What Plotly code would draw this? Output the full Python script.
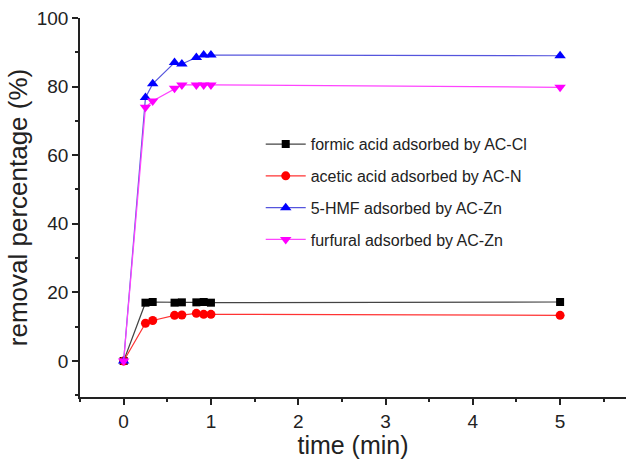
import plotly.graph_objects as go

time_min = [0, 0.25, 0.333, 0.583, 0.667, 0.833, 0.917, 1.0, 5]
formic = [0, 17.0, 17.2, 17.0, 17.1, 17.1, 17.2, 17.0, 17.2]
acetic = [0, 11.0, 11.8, 13.3, 13.4, 13.9, 13.6, 13.6, 13.3]
hmf = [0, 76.8, 80.8, 87.0, 86.6, 88.5, 89.2, 89.2, 89.0]
furfural = [0, 74.0, 75.8, 79.5, 80.5, 80.5, 80.5, 80.5, 79.8]

names = ["formic acid adsorbed by AC-Cl", "acetic acid adsorbed by AC-N",
         "5-HMF adsorbed by AC-Zn", "furfural adsorbed by AC-Zn"]
series = [formic, acetic, hmf, furfural]
colors = ["#000000", "#ff0000", "#0000ff", "#ff00ff"]
line_colors = ["#444444", "#ff3333", "#5555dd", "#ff44ff"]
symbols = ["square", "circle", "triangle-up", "triangle-down"]
sizes = [8, 9, 10, 10]

fig = go.Figure()
for i, (n, s, c, lc, sym, sz) in enumerate(zip(names, series, colors, line_colors, symbols, sizes)):
    fig.add_trace(go.Scatter(
        x=time_min, y=s, mode="lines+markers", name=n, legendgroup=f"g{i}",
        line=dict(color=lc, width=1.2),
        marker=dict(symbol=sym, size=sz, color=c, line=dict(width=0)),
    ))

font_family = "Liberation Sans, Arial, sans-serif"
fig.update_layout(
    width=626, height=459,
    margin=dict(l=80, r=0, t=18, b=62),
    paper_bgcolor="white", plot_bgcolor="white",
    font=dict(family=font_family, size=19, color="#222"),
    showlegend=True,
    legend=dict(x=0.331, y=0.712, xanchor="left", yanchor="top",
                bgcolor="rgba(0,0,0,0)", font=dict(size=16, family=font_family, color="#222"),
                tracegroupgap=8, itemwidth=40),
    xaxis=dict(
        range=[-0.5, 5.755], showgrid=False, zeroline=False, automargin=False,
        showline=True, linecolor="#222", linewidth=1.5,
        ticks="outside", ticklen=6, tickwidth=1.5, tickcolor="#222",
        tickvals=[0, 1, 2, 3, 4, 5], tickfont=dict(size=19),
        minor=dict(ticks="outside", ticklen=3, tickwidth=1.5, tickcolor="#222", dtick=0.5, tick0=0, showgrid=False),
        title=dict(text="time (min)", font=dict(size=25), standoff=0),
    ),
    yaxis=dict(
        range=[-10.5, 100], showgrid=False, zeroline=False, automargin=False,
        showline=True, linecolor="#222", linewidth=1.5,
        ticks="outside", ticklen=6, tickwidth=1.5, tickcolor="#222",
        tickvals=[0, 20, 40, 60, 80, 100], tickfont=dict(size=19),
        minor=dict(ticks="outside", ticklen=3, tickwidth=1.5, tickcolor="#222", dtick=10, tick0=0, showgrid=False),
        title=dict(text="removal percentage (%)", font=dict(size=26), standoff=2),
    ),
)

fig.write_html("out.html", config={"displayModeBar": False},
               post_script="document.body.style.margin='0';")
